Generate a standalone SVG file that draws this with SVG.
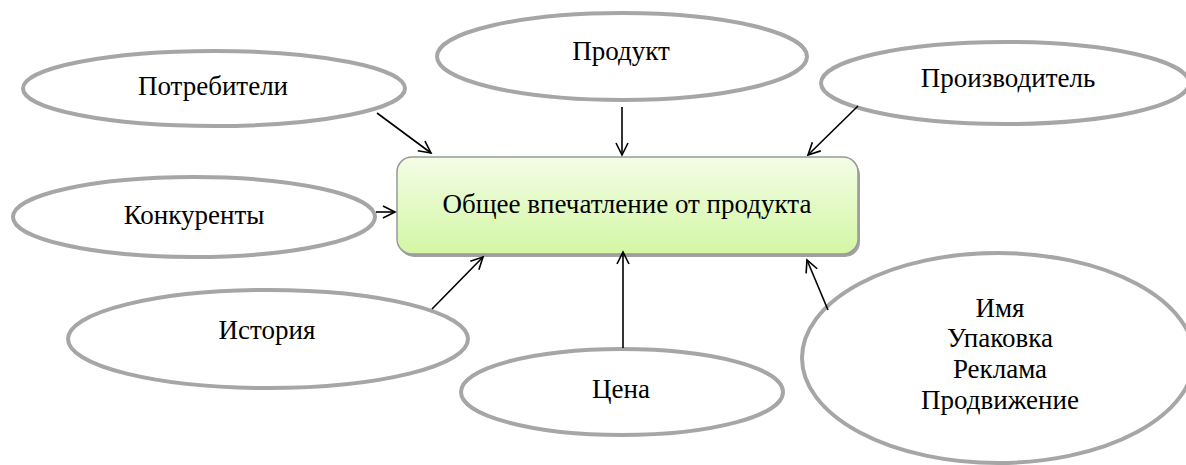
<svg xmlns="http://www.w3.org/2000/svg" width="1186" height="465" viewBox="0 0 1186 465">
<style>
.e{fill:#fff;stroke:#a6a6a6;stroke-width:4}
.t{font-family:"Liberation Serif","Times New Roman",serif;font-size:27px;fill:#000;text-anchor:middle}
.c{stroke:#000;stroke-width:1.6;fill:none;marker-end:url(#a)}
</style>
<defs>
<linearGradient id="g" x1="0" y1="0" x2="0" y2="1">
<stop offset="0" stop-color="#f3fde6"/>
<stop offset="1" stop-color="#d3f6a4"/>
</linearGradient>
<marker id="a" markerUnits="userSpaceOnUse" markerWidth="16" markerHeight="16" refX="13" refY="7" orient="auto" viewBox="0 0 16 14">
<path d="M1,1 L13,7 L1,13" fill="none" stroke="#000" stroke-width="1.6"/>
</marker>
</defs>
<g id="center">
<rect x="399" y="160" width="461" height="97" rx="15" fill="#8a8a8a" opacity="0.8"/>
<rect x="397" y="157" width="461" height="97" rx="15" fill="url(#g)" stroke="#999" stroke-width="1.5"/>
<text class="t" x="627" y="213">Общее впечатление от продукта</text>
</g>
<g id="potrebiteli">
<ellipse class="e" cx="214" cy="88.5" rx="191" ry="37.5"/>
<text class="t" x="213" y="95">Потребители</text>
</g>
<g id="produkt">
<ellipse class="e" cx="622" cy="56.5" rx="185" ry="43.5"/>
<text class="t" x="621" y="60">Продукт</text>
</g>
<g id="proizvoditel">
<ellipse class="e" cx="1005" cy="83" rx="184" ry="41"/>
<text class="t" x="1008" y="87">Производитель</text>
</g>
<g id="konkurenty">
<ellipse class="e" cx="194" cy="217" rx="181" ry="40"/>
<text class="t" x="194" y="224">Конкуренты</text>
</g>
<g id="istoriya">
<ellipse class="e" cx="268" cy="339" rx="200" ry="49"/>
<text class="t" x="267" y="339">История</text>
</g>
<g id="tsena">
<ellipse class="e" cx="622" cy="392" rx="161" ry="43"/>
<text class="t" x="621" y="398">Цена</text>
</g>
<g id="imya">
<ellipse class="e" cx="998" cy="358" rx="196" ry="105"/>
<text class="t" x="1000" y="317">Имя</text>
<text class="t" x="1000" y="347">Упаковка</text>
<text class="t" x="1000" y="378">Реклама</text>
<text class="t" x="1000" y="409">Продвижение</text>
</g>
<g id="connectors">
<line class="c" x1="377" y1="113" x2="431" y2="153"/>
<line class="c" x1="622" y1="107" x2="622" y2="155"/>
<line class="c" x1="858" y1="106" x2="808" y2="155"/>
<line class="c" x1="376" y1="212" x2="395" y2="212"/>
<line class="c" x1="432" y1="309" x2="483" y2="257"/>
<line class="c" x1="623" y1="348" x2="623" y2="252"/>
<line class="c" x1="828" y1="310" x2="807" y2="260"/>
</g>
</svg>
